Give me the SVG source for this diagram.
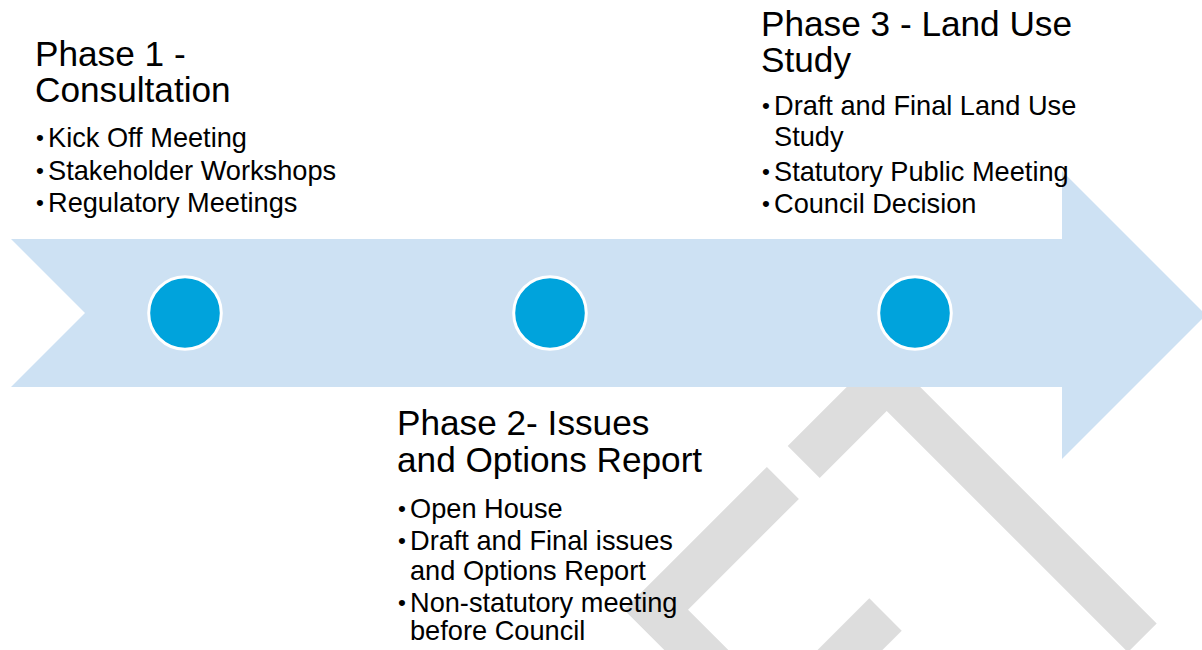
<svg xmlns="http://www.w3.org/2000/svg" width="1202" height="650" viewBox="0 0 1202 650">
  <style>
    .title { font-family: "Liberation Sans", Arial, Helvetica, sans-serif; font-size: 35.2px; fill: #000; }
    .item { font-family: "Liberation Sans", Arial, Helvetica, sans-serif; font-size: 27.2px; fill: #000; }
    .dot { font-family: "Liberation Sans", Arial, Helvetica, sans-serif; font-size: 22.5px; fill: #000; }
    .mark { fill: #dddddd; }
    .band { fill: #cde1f3; }
    .milestone { fill: #00a3dc; stroke: #ffffff; stroke-width: 3; }
  </style>

  <!-- chevron mark in the background -->
  <g id="backdrop">
    <polygon class="mark" points="883.5,350.2 1156.7,623.4 1127.9,652.2 886.7,411 819.7,478 787.7,446"/>
    <polygon class="mark" points="766.9,466.9 798.9,498.9 688,609.7 750,671.7 680,665.7 624,609.7"/>
    <polygon class="mark" points="869.3,598.3 901.7,630.7 872.4,660 807.6,660"/>
  </g>

  <!-- timeline arrow -->
  <g id="connectors">
    <polygon class="band" points="11,239 1062,239 1062,171 1206,315 1062,459 1062,387 11,387 85,313"/>
  </g>

  <g id="milestone-1"><circle class="milestone" cx="185" cy="313" r="36.3"/></g>
  <g id="milestone-2"><circle class="milestone" cx="550" cy="313" r="36.3"/></g>
  <g id="milestone-3"><circle class="milestone" cx="915" cy="313" r="36.3"/></g>

  <g id="phase-1">
    <text class="title" x="35" y="66">Phase 1 -</text>
    <text class="title" x="35" y="102">Consultation</text>
    <text class="dot" x="36" y="145">•</text><text class="item" x="48" y="147">Kick Off Meeting</text>
    <text class="dot" x="36" y="178">•</text><text class="item" x="48" y="180">Stakeholder Workshops</text>
    <text class="dot" x="36" y="210">•</text><text class="item" x="48" y="212">Regulatory Meetings</text>
  </g>

  <g id="phase-2">
    <text class="title" x="397" y="435">Phase 2- Issues</text>
    <text class="title" x="397" y="472">and Options Report</text>
    <text class="dot" x="398" y="516">•</text><text class="item" x="410" y="518">Open House</text>
    <text class="dot" x="398" y="548">•</text><text class="item" x="410" y="550">Draft and Final issues</text>
    <text class="item" x="410" y="580">and Options Report</text>
    <text class="dot" x="398" y="610">•</text><text class="item" x="410" y="612">Non-statutory meeting</text>
    <text class="item" x="410" y="640">before Council</text>
  </g>

  <g id="phase-3">
    <text class="title" x="761" y="36">Phase 3 - Land Use</text>
    <text class="title" x="761" y="72">Study</text>
    <text class="dot" x="762" y="113">•</text><text class="item" x="774" y="115">Draft and Final Land Use</text>
    <text class="item" x="774" y="146">Study</text>
    <text class="dot" x="762" y="179">•</text><text class="item" x="774" y="181">Statutory Public Meeting</text>
    <text class="dot" x="762" y="211">•</text><text class="item" x="774" y="213">Council Decision</text>
  </g>
</svg>
